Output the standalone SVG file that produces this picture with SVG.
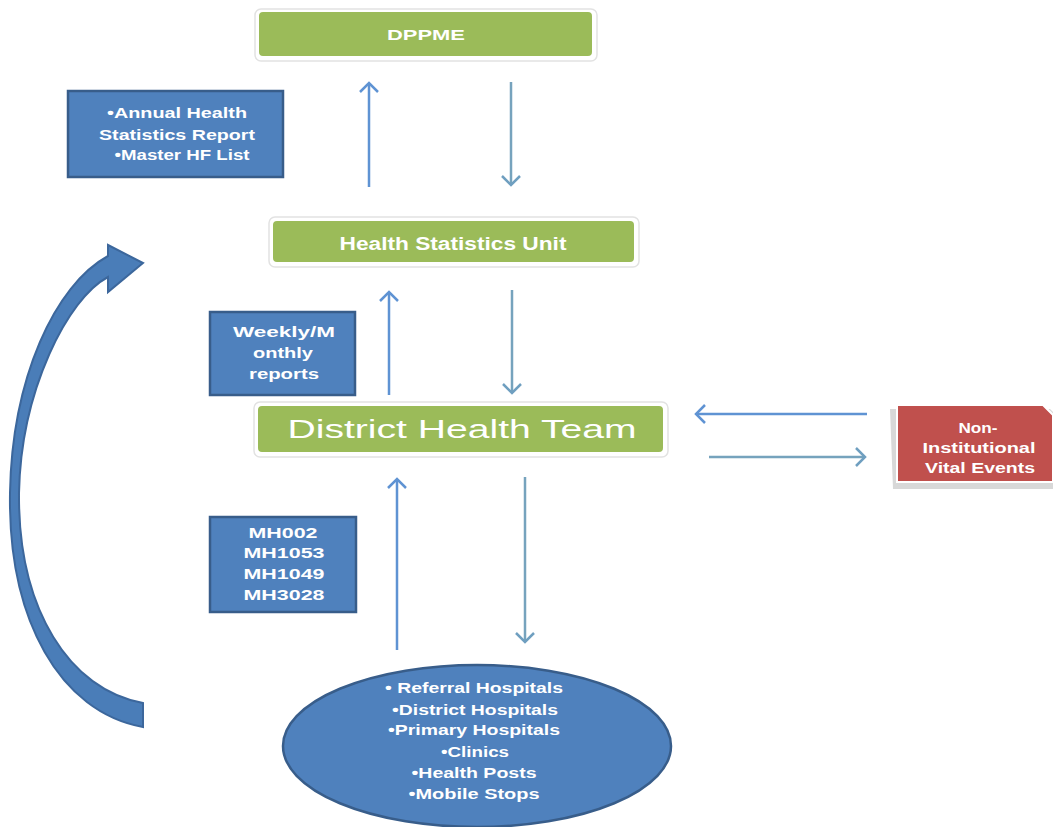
<svg xmlns="http://www.w3.org/2000/svg" width="1053" height="827" viewBox="0 0 1053 827">
<defs>
<style>
.green{fill:#9BBB59;stroke:#ffffff;stroke-width:2}
.gshadow{fill:#ffffff;stroke:#e2e2e2;stroke-width:1.5}
.blue{fill:#4F81BD;stroke:#385D8A;stroke-width:2.5}
.t{font-family:"Liberation Sans",Arial,sans-serif;font-weight:bold;fill:#ffffff;text-anchor:middle}
.up{stroke:#5F93D3;stroke-width:2.5;fill:none}
.down{stroke:#76A3BD;stroke-width:2.5;fill:none}
</style>
<marker id="hu" markerWidth="24" markerHeight="24" refX="12" refY="12" orient="auto" markerUnits="userSpaceOnUse" viewBox="0 0 24 24">
<path d="M3,3 L12,12 L3,21" fill="none" stroke="#5F93D3" stroke-width="2.5"/>
</marker>
<marker id="hd" markerWidth="24" markerHeight="24" refX="12" refY="12" orient="auto" markerUnits="userSpaceOnUse" viewBox="0 0 24 24">
<path d="M3,3 L12,12 L3,21" fill="none" stroke="#6F9FC0" stroke-width="2.5"/>
</marker>
</defs>
<rect width="1053" height="827" fill="#ffffff"/>

<g id="connectors">
<line class="up" x1="369" y1="187" x2="369" y2="83" marker-end="url(#hu)"/>
<line class="down" x1="511" y1="82" x2="511" y2="185" marker-end="url(#hd)"/>
<line class="up" x1="389" y1="395" x2="389" y2="292" marker-end="url(#hu)"/>
<line class="down" x1="512" y1="290" x2="512" y2="393" marker-end="url(#hd)"/>
<line class="up" x1="397" y1="650" x2="397" y2="479" marker-end="url(#hu)"/>
<line class="down" x1="525" y1="477" x2="525" y2="642" marker-end="url(#hd)"/>
<line class="up" x1="867" y1="414" x2="696" y2="414" marker-end="url(#hu)"/>
<line class="down" x1="709" y1="457" x2="865" y2="457" marker-end="url(#hd)"/>
<path id="cycle-arrow" d="M143,727 C60,712 8,620 10,493 C12,378 55,285 108,256 L108,245 L143,263 L108,292 L108,277 C68,298 21,390 19,493 C18,610 70,690 143,703 Z" fill="#4A7DB8" stroke="#3C679C" stroke-width="2"/>
</g>

<g id="dppme">
<rect class="gshadow" x="255" y="9" width="342" height="52" rx="6"/>
<rect class="green" x="258" y="11" width="335" height="46" rx="5"/>
<text class="t" x="426" y="40" font-size="14" textLength="78" lengthAdjust="spacingAndGlyphs">DPPME</text>
</g>

<g id="annual-report">
<rect class="blue" x="68" y="91" width="215" height="86"/>
<text class="t" x="177" y="118" font-size="14" textLength="140" lengthAdjust="spacingAndGlyphs">•Annual Health</text>
<text class="t" x="177" y="140" font-size="14" textLength="156" lengthAdjust="spacingAndGlyphs">Statistics Report</text>
<text class="t" x="182" y="160" font-size="14" textLength="135" lengthAdjust="spacingAndGlyphs">•Master HF List</text>
</g>

<g id="hsu">
<rect class="gshadow" x="269" y="217" width="370" height="50" rx="6"/>
<rect class="green" x="272" y="220" width="363" height="43" rx="5"/>
<text class="t" x="453" y="250" font-size="18" textLength="227" lengthAdjust="spacingAndGlyphs">Health Statistics Unit</text>
</g>

<g id="weekly-reports">
<rect class="blue" x="210" y="312" width="145" height="83"/>
<text class="t" x="284" y="337" font-size="14" textLength="102" lengthAdjust="spacingAndGlyphs">Weekly/M</text>
<text class="t" x="283" y="358" font-size="14" textLength="60" lengthAdjust="spacingAndGlyphs">onthly</text>
<text class="t" x="284" y="379" font-size="14" textLength="70" lengthAdjust="spacingAndGlyphs">reports</text>
</g>

<g id="dht">
<rect class="gshadow" x="254" y="402" width="414" height="55" rx="6"/>
<rect class="green" x="257" y="405" width="407" height="48" rx="5"/>
<text x="462" y="438" font-size="25" font-family="Liberation Sans, Arial, sans-serif" fill="#ffffff" text-anchor="middle" textLength="349" lengthAdjust="spacingAndGlyphs">District Health Team</text>
</g>

<g id="non-institutional">
<path d="M890,409 L1050,409 L1053,412 L1053,489 L893,489 Z" fill="#d8d8d8"/>
<path d="M897,405 L1043,405 L1053,415 L1053,482 L897,482 Z" fill="#C0504D" stroke="#ffffff" stroke-width="2"/>
<text class="t" x="978" y="433" font-size="14" textLength="39" lengthAdjust="spacingAndGlyphs">Non-</text>
<text class="t" x="979" y="453" font-size="14" textLength="113" lengthAdjust="spacingAndGlyphs">Institutional</text>
<text class="t" x="980" y="473" font-size="14" textLength="110" lengthAdjust="spacingAndGlyphs">Vital Events</text>
</g>

<g id="mh-forms">
<rect class="blue" x="210" y="517" width="146" height="95"/>
<text class="t" x="283" y="538" font-size="14" textLength="69" lengthAdjust="spacingAndGlyphs">MH002</text>
<text class="t" x="284" y="558" font-size="14" textLength="81" lengthAdjust="spacingAndGlyphs">MH1053</text>
<text class="t" x="284" y="579" font-size="14" textLength="81" lengthAdjust="spacingAndGlyphs">MH1049</text>
<text class="t" x="284" y="600" font-size="14" textLength="81" lengthAdjust="spacingAndGlyphs">MH3028</text>
</g>

<g id="facilities">
<ellipse cx="477" cy="746" rx="194" ry="81" fill="#4F81BD" stroke="#385D8A" stroke-width="2.5"/>
<text class="t" x="474" y="693" font-size="14" textLength="178" lengthAdjust="spacingAndGlyphs">• Referral Hospitals</text>
<text class="t" x="475" y="715" font-size="14" textLength="166" lengthAdjust="spacingAndGlyphs">•District Hospitals</text>
<text class="t" x="474" y="735" font-size="14" textLength="172" lengthAdjust="spacingAndGlyphs">•Primary Hospitals</text>
<text class="t" x="475" y="757" font-size="14" textLength="68" lengthAdjust="spacingAndGlyphs">•Clinics</text>
<text class="t" x="474" y="778" font-size="14" textLength="125" lengthAdjust="spacingAndGlyphs">•Health Posts</text>
<text class="t" x="474" y="799" font-size="14" textLength="131" lengthAdjust="spacingAndGlyphs">•Mobile Stops</text>
</g>
</svg>
